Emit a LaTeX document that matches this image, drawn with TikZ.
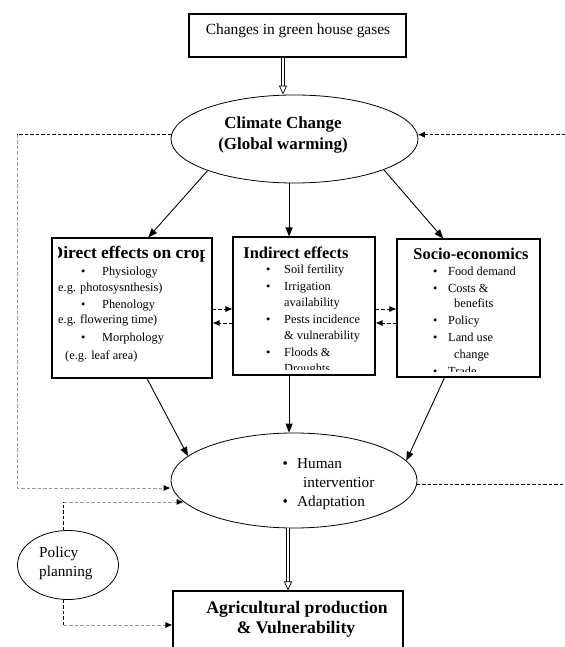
\documentclass[tikz,border=0pt]{standalone}
\usepackage{fontspec}
\setmainfont{Liberation Serif}
\usetikzlibrary{arrows.meta,shapes.geometric}
\newcommand{\itm}[1]{\makebox[#1][l]{\textbullet}}
\tikzset{
  box/.style={draw,rectangle,line width=1.1bp,inner sep=0pt},
  bubble/.style={draw,ellipse,line width=0.8bp,inner sep=0pt},
  lbl/.style={anchor=base,inner sep=0pt},
  head/.style={font=\bfseries\fontsize{17}{20}\selectfont},
  item/.style={anchor=base west,inner sep=0pt,font=\fontsize{12.4}{15}\selectfont},
  link/.style={line width=0.9bp,-{Triangle[length=9bp,width=7bp]}},
  feedback/.style={line width=0.8bp,dash pattern=on 3.5bp off 2bp},
  faint/.style={draw=black!40},
  tip/.style={-{Latex[length=7bp,width=6bp,color=black]}},
  bigarrow/.style={double,double distance=2.5bp,line width=0.7bp,-{Triangle[open,length=9bp,width=8bp]}}
}
\begin{document}
\begin{tikzpicture}[x=1bp,y=-1bp]
\clip (0,0) rectangle (565,647);
% frames
\node[box,minimum width=217bp,minimum height=43bp] (ghg) at (297.5,35.5) {};
\node[bubble,minimum width=247bp,minimum height=88bp] (cc) at (294.5,139) {};
\node[box,minimum width=160bp,minimum height=140bp] (direct) at (132,308) {};
\node[box,minimum width=142bp,minimum height=138bp] (indirect) at (304,306) {};
\node[box,minimum width=143bp,minimum height=138bp] (socio) at (468.5,308) {};
\node[bubble,minimum width=246bp,minimum height=95bp] (hum) at (294,480.5) {};
\node[bubble,minimum width=101bp,minimum height=69bp] (policy) at (68,565) {};
\node[box,minimum width=230bp,minimum height=68bp] (agric) at (288,625) {};
\coordinate (lc) at (17,488);
\coordinate (rc) at (565,0);
% texts
\node[lbl,font=\fontsize{15.5}{18}\selectfont] (ghgtxt) at (298,34.5) {Changes in green house gases};
\node[lbl,head] (cctxt) at (283,129) {Climate Change};
\node[lbl,head] (cctxt2) at (283,150) {(Global warming)};
\begin{scope}
\clip (58,240) rectangle (204,376);
\node[lbl,head,font=\bfseries\fontsize{17.5}{20}\selectfont] (dtitle) at (130,258) {Direct effects on crop};
\foreach \x/\y/\txt [count=\i] in {80.8/275/{\itm{21.2bp}Physiology},58/291/{e.g. photosysnthesis)},
  80.8/308/{\itm{21.2bp}Phenology},58/323/{e.g. flowering time)},
  80.8/341/{\itm{21.2bp}Morphology},65/359/{(e.g. leaf area)}}
  \node[item] (d\i) at (\x,\y) {\txt};
\end{scope}
\begin{scope}
\clip (235,239) rectangle (373,369);
\node[lbl,head,font=\bfseries\fontsize{16.5}{20}\selectfont] (ititle) at (296,258) {Indirect effects};
\foreach \x/\y/\txt [count=\i] in {265.8/273/{\itm{18.2bp}Soil fertility},265.8/290/{\itm{18.2bp}Irrigation},
  284/306/{availability},265.8/323/{\itm{18.2bp}Pests incidence},284/339/{\& vulnerability},
  265.8/356/{\itm{18.2bp}Floods \&},284/372/{Droughts}}
  \node[item] (i\i) at (\x,\y) {\txt};
\end{scope}
\begin{scope}
\clip (399,241) rectangle (538,371);
\node[lbl,head,font=\bfseries\fontsize{16.5}{20}\selectfont] (stitle) at (471,259) {Socio-economics};
\foreach \x/\y/\txt [count=\i] in {432.8/275/{\itm{15.2bp}Food demand},432.8/292/{\itm{15.2bp}Costs \&},
  454/307/{benefits},432.8/324/{\itm{15.2bp}Policy},432.8/341/{\itm{15.2bp}Land use},
  454/358/{change},432.8/375/{\itm{15.2bp}Trade}}
  \node[item] (s\i) at (\x,\y) {\txt};
\end{scope}
\foreach \x/\y/\txt [count=\i] in {282.3/468/{\itm{14.7bp}Human},303/487/{interventior},282.3/506/{\itm{14.7bp}Adaptation}}
  \node[item,font=\fontsize{15.3}{18}\selectfont] (h\i) at (\x,\y) {\txt};
\node[item,font=\fontsize{15.3}{18}\selectfont] (p1) at (39,557) {Policy};
\node[item,font=\fontsize{15.3}{18}\selectfont] (p2) at (39,576.5) {planning};
\node[lbl,head,font=\bfseries\fontsize{17.7}{20}\selectfont] (atxt) at (297,613) {Agricultural production};
\node[lbl,head,font=\bfseries\fontsize{17.7}{20}\selectfont] (atxt2) at (296,633) {\& Vulnerability};
% main flow
\draw[bigarrow] (ghg.south -| cctxt) -- (cc.north -| cctxt);
\draw[link] (cc.200) -- (direct.77);
\draw[link] (cc.263) -- (cc.263 |- indirect.north);
\draw[link] (cc.341) -- (socio.110);
\draw[link] (direct.282) -- (hum.167);
\draw[link] (cc.263 |- indirect.south) -- (cc.263 |- hum.north);
\draw[link] (socio.251) -- (hum.10);
\draw[bigarrow] (hum.south -| agric.north) -- (agric.north);
% feedbacks
\draw[feedback,tip] ([yshift=-1bp]direct.east) -- ([yshift=-1bp]direct.east -| indirect.west);
\draw[feedback,tip] ([yshift=-17bp]indirect.west) -- ([yshift=-17bp]indirect.west -| direct.east);
\draw[feedback,tip] ([yshift=-3bp]indirect.east) -- ([yshift=-3bp]indirect.east -| socio.west);
\draw[feedback,tip] ([yshift=-15bp]socio.west) -- ([yshift=-15bp]socio.west -| indirect.east);
\draw[feedback] (cc.178) -- (cc.178 -| lc);
\draw[feedback,faint,tip] (cc.178 -| lc) -- (lc) -- (hum.west |- lc);
\draw[feedback,tip] (cc.2 -| rc) -- (cc.2);
\draw[feedback] (hum.358) -- (hum.358 -| rc);
\draw[feedback] (policy.97) -- (policy.97 |- hum.191);
\draw[feedback,faint,tip] (policy.97 |- hum.191) -- (hum.191);
\draw[feedback] (policy.263) -- (policy.263 |- agric.west);
\draw[feedback,faint,tip] (policy.263 |- agric.west) -- (agric.west);
\end{tikzpicture}
\end{document}
